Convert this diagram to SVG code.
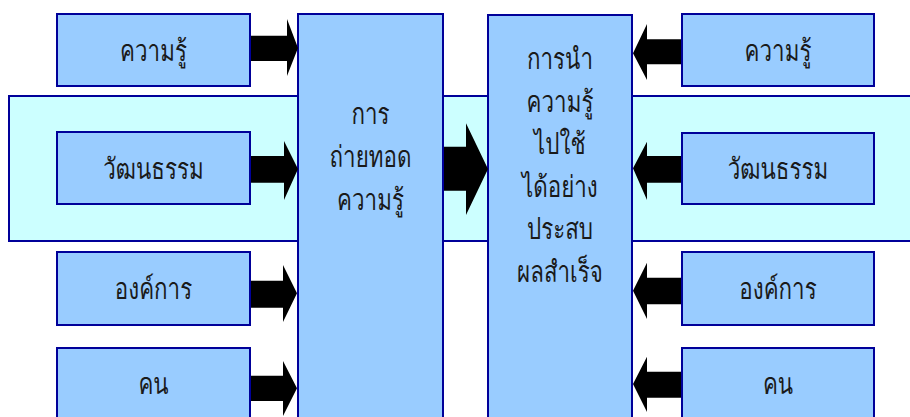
<svg xmlns="http://www.w3.org/2000/svg" width="910" height="417" viewBox="0 0 910 417">
<style>
.box{fill:#99CCFF;stroke:#000099;stroke-width:2}
.band{fill:#CCFFFF;stroke:#000099;stroke-width:2}
.arr{fill:#000000}
text{font-family:Loma,sans-serif;font-size:26px;font-weight:normal;fill:#1a1a1a;text-anchor:middle;transform-box:fill-box;transform-origin:center;transform:scale(0.86,1.12)}
</style>
<rect width="910" height="417" fill="#FFFFFF"/>
<rect class="band" x="9" y="96" width="910" height="145"/>
<g id="k-left"><rect class="box" x="57" y="14" width="193" height="72"/><text x="153.5" y="60">ความรู้</text></g>
<g id="c-left"><rect class="box" x="57" y="132" width="193" height="72"/><text x="153.5" y="178">วัฒนธรรม</text></g>
<g id="o-left"><rect class="box" x="57" y="252" width="193" height="73"/><text x="153.5" y="298">องค์การ</text></g>
<g id="p-left"><rect class="box" x="57" y="348" width="193" height="80"/><text x="153.5" y="393">คน</text></g>
<g id="transfer"><rect class="box" x="298" y="14" width="145" height="420"/>
<text x="370.5" y="123">การ</text><text x="370.5" y="166">ถ่ายทอด</text><text x="370.5" y="209">ความรู้</text></g>
<g id="apply"><rect class="box" x="488" y="15" width="144" height="420"/>
<text x="560" y="68">การนำ</text><text x="560" y="110.5">ความรู้</text><text x="560" y="153">ไปใช้</text><text x="560" y="195.5">ได้อย่าง</text><text x="560" y="238">ประสบ</text><text x="560" y="280.5">ผลสำเร็จ</text></g>
<g id="k-right"><rect class="box" x="682" y="14" width="192" height="72"/><text x="778" y="60">ความรู้</text></g>
<g id="c-right"><rect class="box" x="682" y="133" width="192" height="71"/><text x="778" y="178">วัฒนธรรม</text></g>
<g id="o-right"><rect class="box" x="682" y="252" width="192" height="73"/><text x="778" y="298">องค์การ</text></g>
<g id="p-right"><rect class="box" x="682" y="348" width="192" height="80"/><text x="778" y="393">คน</text></g>
<g id="connectors">
<polygon class="arr" points="251,35.7 287,35.7 287,19 298,48 287,76 287,61 251,61"/>
<polygon class="arr" points="251,156 284,156 284,141 298,169 284,200 284,182.7 251,182.7"/>
<polygon class="arr" points="251,280.7 283,280.7 283,265 297,293.3 283,322 283,307.7 251,307.7"/>
<polygon class="arr" points="251,375.7 283,375.7 283,361 297,388.3 283,416 283,401 251,401"/>
<polygon class="arr" points="444,146.7 466,146.7 466,123.3 488,169 466,215 466,190.7 444,190.7"/>
<polygon class="arr" points="681,39.3 647,39.3 647,24 633,53.3 647,80 647,64.3 681,64.3"/>
<polygon class="arr" points="681,156 647,156 647,141.7 633,168.3 647,200 647,182.7 681,182.7"/>
<polygon class="arr" points="681,277.7 647,277.7 647,262.7 633,290.7 647,319 647,304.3 681,304.3"/>
<polygon class="arr" points="681,371.7 647,371.7 647,356.7 633,384 647,412 647,397.7 681,397.7"/>
</g>
</svg>
